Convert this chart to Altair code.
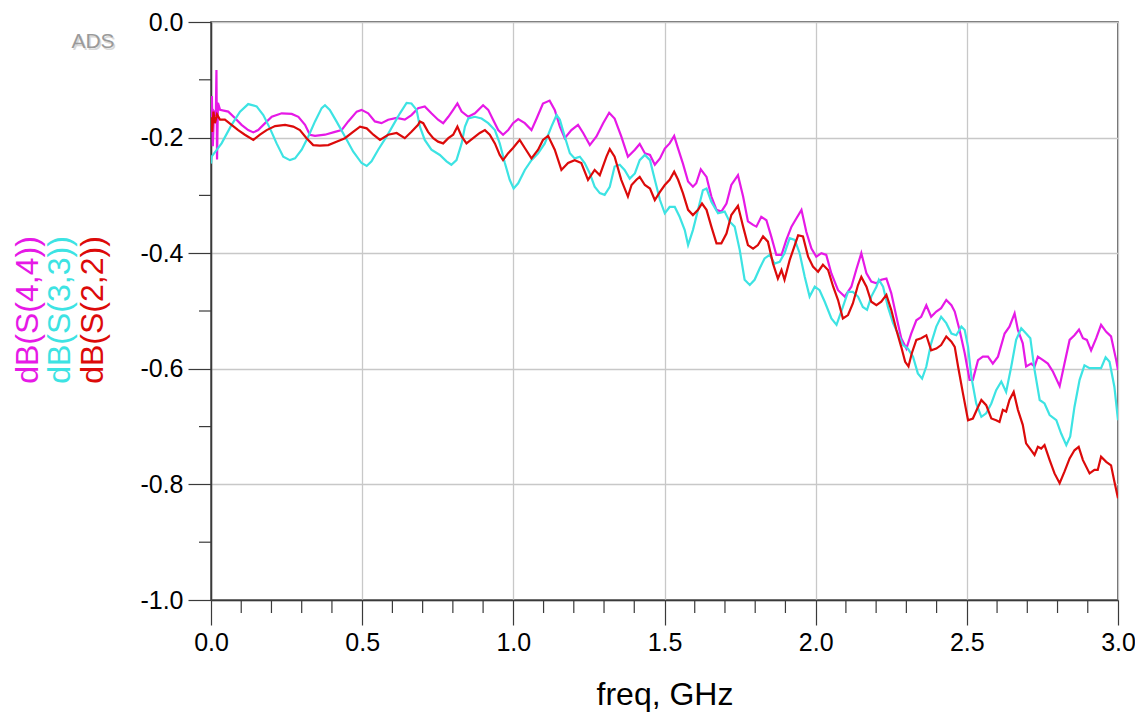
import altair as alt
import pandas as pd

# ---- data (freq in GHz, value in dB) ----
S44 = [(0.0,-0.17),(0.003,-0.128),(0.006,-0.215),(0.010,-0.155),(0.016,-0.16),(0.018,-0.083),(0.020,-0.238),(0.023,-0.14),
       (0.030,-0.152),(0.057,-0.155),(0.079,-0.166),(0.101,-0.178),(0.123,-0.187),(0.140,-0.191),(0.156,-0.187),(0.179,-0.175),
       (0.201,-0.164),(0.234,-0.158),(0.267,-0.159),(0.289,-0.164),(0.311,-0.178),(0.327,-0.195),(0.344,-0.197),(0.377,-0.195),
       (0.410,-0.190),(0.432,-0.187),(0.454,-0.172),(0.482,-0.155),(0.498,-0.152),(0.520,-0.158),(0.542,-0.172),(0.564,-0.175),
       (0.586,-0.169),(0.614,-0.166),(0.641,-0.169),(0.663,-0.161),(0.685,-0.149),(0.707,-0.146),(0.729,-0.158),(0.751,-0.169),
       (0.768,-0.175),(0.785,-0.164),(0.801,-0.152),(0.815,-0.141),(0.829,-0.155),(0.851,-0.164),(0.873,-0.158),(0.900,-0.144),
       (0.917,-0.152),(0.933,-0.169),(0.950,-0.187),(0.966,-0.195),(0.983,-0.187),(0.999,-0.175),(1.016,-0.168),(1.038,-0.175),
       (1.060,-0.187),(1.077,-0.167),(1.098,-0.141),(1.120,-0.136),(1.137,-0.152),(1.154,-0.181),(1.170,-0.201),(1.192,-0.187),
       (1.214,-0.178),(1.231,-0.192),(1.253,-0.213),(1.275,-0.198),(1.297,-0.175),(1.317,-0.157),(1.335,-0.167),(1.357,-0.198),
       (1.379,-0.233),(1.402,-0.221),(1.418,-0.211),(1.435,-0.227),(1.452,-0.230),(1.468,-0.247),(1.485,-0.236),(1.501,-0.219),
       (1.517,-0.210),(1.532,-0.197),(1.545,-0.219),(1.561,-0.245),(1.578,-0.276),(1.594,-0.285),(1.605,-0.279),(1.620,-0.255),
       (1.639,-0.268),(1.655,-0.302),(1.672,-0.325),(1.688,-0.328),(1.705,-0.314),(1.721,-0.282),(1.743,-0.265),(1.760,-0.302),
       (1.776,-0.345),(1.793,-0.351),(1.804,-0.354),(1.820,-0.337),(1.837,-0.343),(1.853,-0.371),(1.870,-0.403),(1.887,-0.403),
       (1.903,-0.377),(1.920,-0.354),(1.936,-0.340),(1.953,-0.325),(1.969,-0.363),(1.986,-0.392),(2.002,-0.406),(2.019,-0.400),
       (2.035,-0.403),(2.052,-0.435),(2.074,-0.464),(2.096,-0.475),(2.118,-0.458),(2.134,-0.429),(2.151,-0.400),(2.168,-0.435),
       (2.184,-0.449),(2.201,-0.452),(2.217,-0.446),(2.234,-0.444),(2.250,-0.469),(2.267,-0.510),(2.283,-0.547),(2.300,-0.565),
       (2.316,-0.539),(2.333,-0.516),(2.349,-0.510),(2.366,-0.490),(2.382,-0.510),(2.399,-0.501),(2.415,-0.495),(2.432,-0.481),
       (2.449,-0.490),(2.460,-0.501),(2.476,-0.533),(2.493,-0.573),(2.509,-0.619),(2.520,-0.619),(2.537,-0.585),(2.553,-0.579),
       (2.570,-0.579),(2.586,-0.591),(2.603,-0.579),(2.625,-0.539),(2.641,-0.527),(2.658,-0.504),(2.669,-0.533),(2.685,-0.556),
       (2.696,-0.596),(2.713,-0.591),(2.724,-0.596),(2.735,-0.579),(2.752,-0.585),(2.768,-0.591),(2.785,-0.605),(2.807,-0.630),
       (2.823,-0.591),(2.840,-0.550),(2.856,-0.542),(2.871,-0.532),(2.884,-0.547),(2.897,-0.550),(2.911,-0.568),(2.928,-0.547),
       (2.944,-0.524),(2.961,-0.536),(2.977,-0.544),(2.994,-0.585),(3.0,-0.602)]

S33 = [(0.0,-0.245),(0.002,-0.233),(0.035,-0.210),(0.068,-0.178),(0.096,-0.155),(0.123,-0.142),(0.151,-0.146),(0.173,-0.161),
       (0.195,-0.184),(0.217,-0.210),(0.239,-0.233),(0.261,-0.239),(0.278,-0.236),(0.300,-0.221),(0.322,-0.198),(0.344,-0.172),
       (0.366,-0.149),(0.377,-0.144),(0.393,-0.152),(0.415,-0.172),(0.443,-0.198),(0.470,-0.224),(0.498,-0.244),(0.515,-0.249),
       (0.531,-0.241),(0.553,-0.221),(0.581,-0.198),(0.603,-0.178),(0.625,-0.158),(0.647,-0.140),(0.663,-0.141),(0.680,-0.152),
       (0.691,-0.181),(0.707,-0.204),(0.729,-0.221),(0.757,-0.230),(0.779,-0.241),(0.795,-0.247),(0.812,-0.239),(0.829,-0.210),
       (0.840,-0.181),(0.851,-0.167),(0.873,-0.164),(0.895,-0.167),(0.917,-0.175),(0.939,-0.187),(0.955,-0.210),(0.972,-0.244),
       (0.988,-0.273),(1.001,-0.288),(1.016,-0.279),(1.038,-0.256),(1.060,-0.239),(1.082,-0.227),(1.104,-0.210),(1.126,-0.181),
       (1.143,-0.161),(1.154,-0.169),(1.170,-0.198),(1.187,-0.227),(1.203,-0.236),(1.220,-0.233),(1.236,-0.244),(1.253,-0.262),
       (1.269,-0.285),(1.286,-0.296),(1.302,-0.299),(1.319,-0.285),(1.335,-0.250),(1.352,-0.247),(1.368,-0.256),(1.385,-0.271),
       (1.402,-0.262),(1.418,-0.239),(1.435,-0.230),(1.452,-0.239),(1.468,-0.273),(1.485,-0.308),(1.501,-0.331),(1.517,-0.320),
       (1.534,-0.320),(1.550,-0.337),(1.567,-0.360),(1.578,-0.386),(1.594,-0.360),(1.611,-0.325),(1.627,-0.291),(1.639,-0.288),
       (1.655,-0.311),(1.677,-0.331),(1.699,-0.328),(1.715,-0.345),(1.732,-0.354),(1.749,-0.395),(1.765,-0.446),(1.782,-0.455),
       (1.798,-0.446),(1.815,-0.426),(1.831,-0.409),(1.848,-0.403),(1.864,-0.418),(1.881,-0.415),(1.897,-0.400),(1.914,-0.374),
       (1.931,-0.377),(1.947,-0.400),(1.964,-0.441),(1.980,-0.475),(1.997,-0.458),(2.013,-0.464),(2.030,-0.484),(2.052,-0.513),
       (2.069,-0.524),(2.090,-0.493),(2.107,-0.467),(2.123,-0.467),(2.140,-0.475),(2.156,-0.493),(2.170,-0.498),(2.184,-0.475),
       (2.201,-0.458),(2.209,-0.446),(2.223,-0.458),(2.239,-0.493),(2.256,-0.521),(2.272,-0.539),(2.289,-0.559),(2.305,-0.565),
       (2.322,-0.579),(2.338,-0.608),(2.352,-0.617),(2.366,-0.596),(2.382,-0.556),(2.399,-0.527),(2.415,-0.510),(2.432,-0.521),
       (2.449,-0.539),(2.465,-0.542),(2.482,-0.527),(2.493,-0.533),(2.504,-0.562),(2.515,-0.614),(2.531,-0.660),(2.548,-0.683),
       (2.564,-0.677),(2.581,-0.660),(2.597,-0.637),(2.614,-0.622),(2.630,-0.640),(2.647,-0.596),(2.663,-0.550),(2.680,-0.530),
       (2.696,-0.539),(2.710,-0.547),(2.724,-0.602),(2.741,-0.654),(2.757,-0.660),(2.774,-0.680),(2.796,-0.689),(2.812,-0.712),
       (2.829,-0.732),(2.842,-0.717),(2.856,-0.666),(2.873,-0.619),(2.889,-0.594),(2.906,-0.599),(2.928,-0.599),(2.944,-0.599),
       (2.959,-0.580),(2.972,-0.588),(2.988,-0.631),(3.0,-0.689)]

S22 = [(0.0,-0.165),(0.004,-0.19),(0.008,-0.155),(0.013,-0.175),(0.020,-0.16),(0.030,-0.169),(0.046,-0.169),(0.068,-0.178),
       (0.090,-0.187),(0.112,-0.195),(0.140,-0.204),(0.162,-0.195),(0.184,-0.187),(0.212,-0.180),(0.245,-0.178),(0.272,-0.181),
       (0.294,-0.187),(0.316,-0.201),(0.338,-0.213),(0.360,-0.214),(0.388,-0.213),(0.415,-0.207),(0.443,-0.201),(0.470,-0.190),
       (0.493,-0.181),(0.515,-0.184),(0.537,-0.195),(0.559,-0.204),(0.586,-0.195),(0.614,-0.192),(0.641,-0.201),(0.663,-0.190),
       (0.685,-0.178),(0.691,-0.172),(0.702,-0.175),(0.718,-0.190),(0.735,-0.201),(0.751,-0.207),(0.768,-0.210),(0.785,-0.201),
       (0.801,-0.195),(0.815,-0.181),(0.829,-0.198),(0.845,-0.210),(0.867,-0.201),(0.889,-0.192),(0.906,-0.187),(0.922,-0.195),
       (0.939,-0.210),(0.955,-0.230),(0.966,-0.239),(0.983,-0.227),(0.999,-0.218),(1.021,-0.204),(1.038,-0.218),(1.060,-0.236),
       (1.082,-0.221),(1.098,-0.204),(1.115,-0.197),(1.137,-0.221),(1.159,-0.256),(1.181,-0.244),(1.203,-0.239),(1.225,-0.244),
       (1.247,-0.273),(1.269,-0.256),(1.286,-0.265),(1.308,-0.233),(1.319,-0.220),(1.335,-0.233),(1.357,-0.273),(1.379,-0.302),
       (1.391,-0.282),(1.407,-0.273),(1.418,-0.268),(1.435,-0.282),(1.452,-0.288),(1.468,-0.308),(1.485,-0.294),(1.501,-0.282),
       (1.517,-0.273),(1.532,-0.259),(1.545,-0.273),(1.561,-0.296),(1.578,-0.325),(1.594,-0.334),(1.611,-0.325),(1.624,-0.314),
       (1.639,-0.325),(1.655,-0.354),(1.672,-0.383),(1.688,-0.383),(1.705,-0.366),(1.721,-0.334),(1.743,-0.318),(1.760,-0.354),
       (1.776,-0.386),(1.793,-0.392),(1.809,-0.386),(1.826,-0.371),(1.842,-0.380),(1.859,-0.418),(1.875,-0.444),(1.887,-0.429),
       (1.897,-0.446),(1.914,-0.412),(1.931,-0.386),(1.942,-0.369),(1.958,-0.371),(1.975,-0.406),(1.991,-0.423),(2.008,-0.432),
       (2.024,-0.420),(2.041,-0.429),(2.058,-0.458),(2.074,-0.481),(2.090,-0.513),(2.107,-0.507),(2.123,-0.487),(2.140,-0.455),
       (2.151,-0.441),(2.168,-0.458),(2.184,-0.484),(2.201,-0.490),(2.217,-0.484),(2.234,-0.472),(2.250,-0.498),(2.267,-0.533),
       (2.283,-0.562),(2.296,-0.588),(2.307,-0.596),(2.318,-0.573),(2.333,-0.550),(2.349,-0.547),(2.366,-0.542),(2.382,-0.568),
       (2.399,-0.565),(2.415,-0.559),(2.432,-0.544),(2.449,-0.553),(2.460,-0.562),(2.471,-0.596),(2.487,-0.642),(2.504,-0.689),
       (2.520,-0.686),(2.537,-0.666),(2.548,-0.654),(2.564,-0.663),(2.581,-0.686),(2.597,-0.689),(2.608,-0.692),(2.619,-0.671),
       (2.630,-0.674),(2.641,-0.654),(2.655,-0.640),(2.669,-0.671),(2.685,-0.697),(2.696,-0.729),(2.713,-0.741),(2.724,-0.749),
       (2.735,-0.735),(2.746,-0.738),(2.757,-0.732),(2.774,-0.758),(2.790,-0.781),(2.807,-0.798),(2.823,-0.778),(2.840,-0.755),
       (2.856,-0.741),(2.870,-0.735),(2.884,-0.758),(2.906,-0.781),(2.922,-0.775),(2.933,-0.775),(2.944,-0.752),(2.961,-0.761),
       (2.977,-0.767),(2.988,-0.795),(3.0,-0.824)]

SERIES = ["dB(S(4,4))", "dB(S(3,3))", "dB(S(2,2))"]
COLORS = ["#e619e6", "#3de3e3", "#dc0a0a"]
X_MAJOR = [0.0, 0.5, 1.0, 1.5, 2.0, 2.5, 3.0]
X_MINOR = [0.1, 0.2, 0.3, 0.4, 0.6, 0.7, 0.8, 0.9, 1.1, 1.2, 1.3, 1.4, 1.6, 1.7, 1.8, 1.9,
           2.1, 2.2, 2.3, 2.4, 2.6, 2.7, 2.8, 2.9]
Y_MAJOR = [0.0, -0.2, -0.4, -0.6, -0.8, -1.0]
Y_MINOR = [-0.1, -0.3, -0.5, -0.7, -0.9]

rows = []
for name, pts in zip(SERIES, [S44, S33, S22]):
    for i, (f, v) in enumerate(pts):
        rows.append({"series": name, "freq": f, "val": v, "idx": i})
df = pd.DataFrame(rows)

W, H = 907, 578
FONT = "Liberation Sans"
DARK = "#3a3a3a"

xscale = alt.Scale(domain=[0, 3], nice=False, zero=False)
yscale = alt.Scale(domain=[-1, 0], nice=False, zero=False)

XAXIS = alt.Axis(values=X_MAJOR, format=".1f", title="freq, GHz", tickSize=25,
                 labelPadding=5, labelFlush=False, labelOverlap=False, grid=True,
                 titleY=104, titleBaseline="alphabetic", titleFontSize=32)
YAXIS = alt.Axis(values=Y_MAJOR, title=None, tickSize=23, labelPadding=5,
                 labelFlush=False, labelOverlap=False, grid=True,
                 labelExpr="(datum.value < 0 ? '-' : '') + format(abs(datum.value), '.1f')")

lines = alt.Chart(df).mark_line(strokeWidth=2.2, clip=True).encode(
    x=alt.X("freq:Q", scale=xscale, axis=XAXIS, title="freq, GHz"),
    y=alt.Y("val:Q", scale=yscale, axis=YAXIS, title=None),
    color=alt.Color("series:N", scale=alt.Scale(domain=SERIES, range=COLORS), legend=None),
    detail="series:N",
    order="idx:Q",
)

xminor = alt.Chart(pd.DataFrame({"t": X_MINOR})).mark_rule(color=DARK, strokeWidth=1.2).encode(
    x=alt.X("t:Q", scale=xscale, axis=XAXIS, title="freq, GHz"),
    y=alt.value(H), y2=alt.value(H + 13),
)
yminor = alt.Chart(pd.DataFrame({"t": Y_MINOR})).mark_rule(color=DARK, strokeWidth=1.2).encode(
    y=alt.Y("t:Q", scale=yscale, axis=YAXIS, title=None),
    x=alt.value(-12), x2=alt.value(0),
)

label_x = [-183, -151, -118]
labels = []
for name, col, px in zip(SERIES, COLORS, label_x):
    labels.append(
        alt.Chart(pd.DataFrame({"label": [name]})).mark_text(
            angle=270, font=FONT, fontSize=32, align="center", baseline="middle", color=col
        ).encode(text="label:N", x=alt.value(px), y=alt.value(288))
    )

ads_shadow = alt.Chart(pd.DataFrame({"label": ["ADS"]})).mark_text(
    font=FONT, fontSize=21, align="center", baseline="middle", color="#d8d8d8"
).encode(text="label:N", x=alt.value(-116.5), y=alt.value(21.5))
ads = alt.Chart(pd.DataFrame({"label": ["ADS"]})).mark_text(
    font=FONT, fontSize=21, align="center", baseline="middle", color="#9a9a9a"
).encode(text="label:N", x=alt.value(-118), y=alt.value(20))

chart = alt.layer(lines, xminor, yminor, *labels, ads_shadow, ads).properties(
    width=W, height=H,
    padding={"left": 203, "top": 14, "right": 17, "bottom": 112},
    autosize=alt.AutoSizeParams(type="none"),
).configure_view(
    stroke=DARK, strokeWidth=1.5
).configure_axis(
    domainColor=DARK, domainWidth=1.5,
    tickColor=DARK, tickWidth=1.2,
    gridColor="#c8c8c8", gridWidth=1.3,
    labelFont=FONT, labelFontSize=25, labelColor="#000000",
    titleFont=FONT, titleFontWeight="normal", titleColor="#000000",
)

chart.save("out.html", embed_options={"renderer": "svg", "actions": False})
